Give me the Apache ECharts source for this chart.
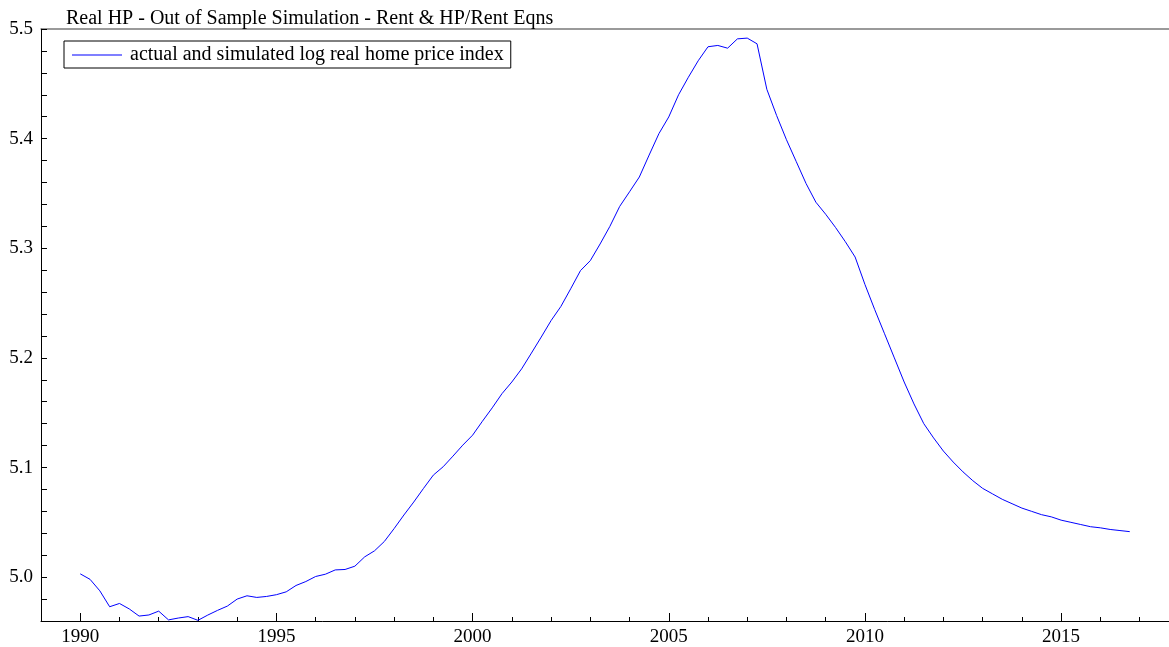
<!DOCTYPE html>
<html><head><meta charset="utf-8">
<script src="https://cdn.jsdelivr.net/npm/echarts@6/dist/echarts.min.js"></script>
<style>html,body{margin:0;padding:0;background:#fff}#c{width:1169px;height:647px}</style>
</head><body><div id="c"></div>
<script>
const titleText = 'Real HP - Out of Sample Simulation - Rent & HP/Rent Eqns';
const seriesName = 'actual and simulated log real home price index';
const startYear = 1990; // first quarter 1990Q1, quarterly data
const values = [
  5.003, 4.998, 4.9875, 4.973,
  4.976, 4.971, 4.9645, 4.9655,
  4.969, 4.961, 4.9627, 4.964,
  4.9606, 4.9654, 4.9697, 4.9736,
  4.980, 4.983, 4.9815, 4.9824,
  4.984, 4.9866, 4.9924, 4.996,
  5.0006, 5.0027, 5.0066, 5.007,
  5.0100, 5.0185, 5.024, 5.0325,
  5.0443, 5.0567, 5.0685, 5.081,
  5.0931, 5.1007, 5.1104, 5.1204,
  5.1295, 5.1422, 5.1544, 5.1674,
  5.178, 5.190, 5.2044, 5.219,
  5.234, 5.2469, 5.263, 5.2796,
  5.2887, 5.3039, 5.320, 5.3382,
  5.3515, 5.365, 5.385, 5.4046,
  5.4198, 5.440, 5.456, 5.471,
  5.4838, 5.485, 5.4825, 5.491,
  5.4917, 5.4865, 5.445, 5.421,
  5.399, 5.379, 5.359, 5.342,
  5.331, 5.319, 5.306, 5.292,
  5.267, 5.244, 5.222, 5.200,
  5.178, 5.158, 5.140, 5.127,
  5.115, 5.105, 5.096, 5.088,
  5.081, 5.076, 5.071, 5.067,
  5.063, 5.060, 5.057, 5.055,
  5.052, 5.050, 5.048, 5.046,
  5.045, 5.0435, 5.0425, 5.0415
];
const xMajorTicks = [1990, 1995, 2000, 2005, 2010, 2015];
const yMajorTicks = [5.0, 5.1, 5.2, 5.3, 5.4, 5.5];

const dates = values.map((v, i) => startYear + i / 4);
const data = values.map((v, i) => [dates[i], v]);

const FONT = 'Liberation Serif';
const chart = echarts.init(document.getElementById('c'), null, {renderer: 'canvas'});
const xBase = {type: 'value', min: 1989, max: 2017.75, splitLine: {show: false}};
const yBase = {type: 'value', min: 4.96, max: 5.5, splitLine: {show: false}};
chart.setOption({
  animation: false,
  backgroundColor: '#fff',
  textStyle: {fontFamily: FONT},
  title: {text: titleText, left: 66, top: 9, padding: 0,
    textStyle: {fontFamily: FONT, fontSize: 20, fontWeight: 'normal', color: '#000'}},
  legend: {left: 64, top: 41, borderColor: '#000', borderWidth: 1, borderRadius: 0,
    padding: [4, 7, 3, 8], itemWidth: 50, itemHeight: 1, itemGap: 0, icon: 'rect',
    textStyle: {fontFamily: FONT, fontSize: 20, color: '#000', padding: [0, 0, 0, 3]},
    data: [{name: seriesName}]},
  grid: {left: 41, right: 0, top: 29, bottom: 24},
  xAxis: [
    Object.assign({}, xBase, {interval: 1, position: 'bottom',
      axisLine: {show: true, lineStyle: {color: '#000', width: 1}},
      axisTick: {show: true, inside: true, length: 4, lineStyle: {color: '#000'}},
      axisLabel: {show: false}}),
    Object.assign({}, xBase, {position: 'bottom',
      axisLine: {show: false},
      axisTick: {show: true, inside: true, length: 8, customValues: xMajorTicks, lineStyle: {color: '#000'}},
      axisLabel: {show: true, customValues: xMajorTicks, formatter: v => String(Math.round(v)),
        fontSize: 19, color: '#000', margin: 7, fontFamily: FONT}}),
    Object.assign({}, xBase, {position: 'top',
      axisLine: {show: true, lineStyle: {color: '#7a7a7a', width: 1.5}},
      axisTick: {show: false}, axisLabel: {show: false}})
  ],
  yAxis: [
    Object.assign({}, yBase, {interval: 0.02, position: 'left',
      axisLine: {show: true, lineStyle: {color: '#000', width: 1}},
      axisTick: {show: true, inside: true, length: 6, lineStyle: {color: '#000'}},
      axisLabel: {show: false}}),
    Object.assign({}, yBase, {position: 'left',
      axisLine: {show: false}, axisTick: {show: false},
      axisLabel: {show: true, customValues: yMajorTicks, formatter: v => v.toFixed(1),
        fontSize: 19, color: '#000', margin: 8, fontFamily: FONT}})
  ],
  series: [{
    name: seriesName, type: 'line', xAxisIndex: 0, yAxisIndex: 0,
    data: data, showSymbol: false, symbol: 'none',
    lineStyle: {color: '#0000ff', width: 1}, itemStyle: {color: '#0000ff'}
  }]
});
</script></body></html>
